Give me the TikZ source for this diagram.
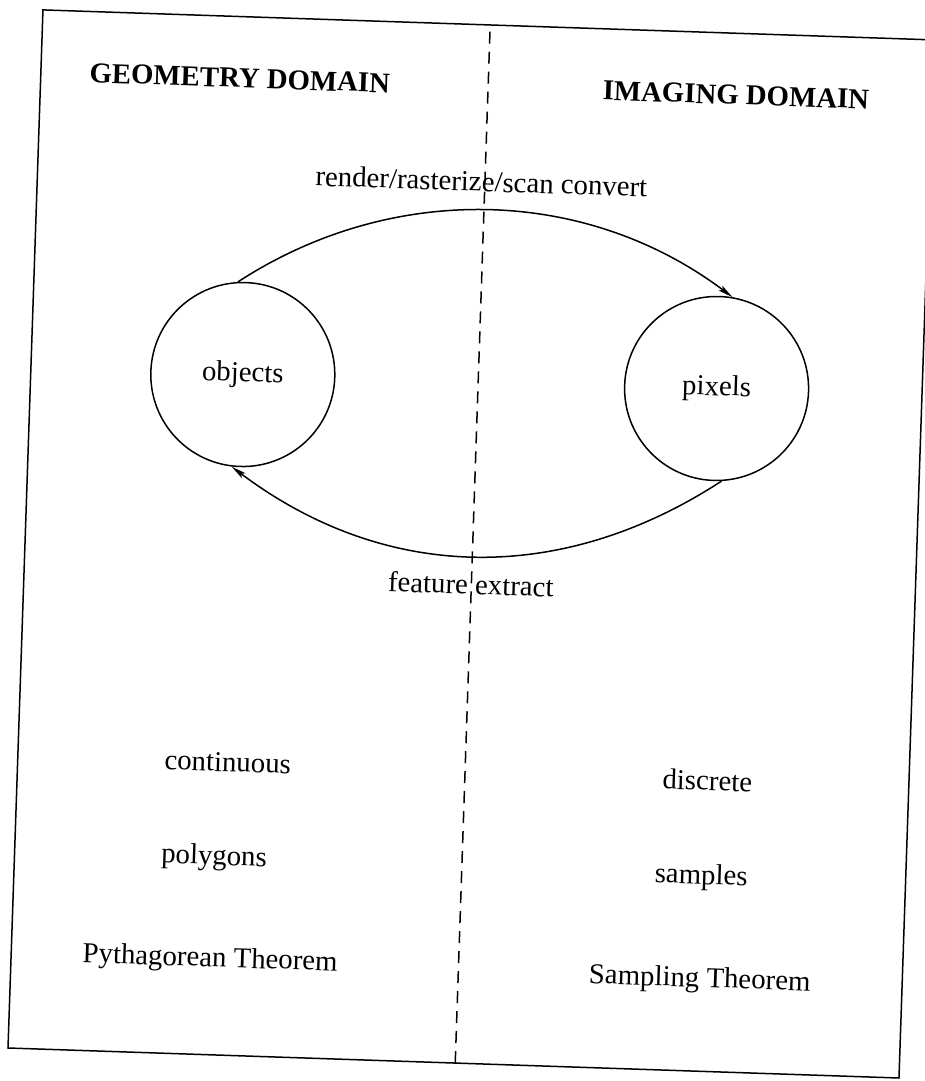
\documentclass[tikz,border=0pt]{standalone}
\usepackage{fontspec}
\setmainfont{Liberation Serif}
\usepackage{tikz}
\usetikzlibrary{arrows,arrows.meta,positioning,calc}

\begin{document}
\begin{tikzpicture}[x=0.5pt,y=0.5pt,>={Stealth[length=7.5pt,width=3pt,inset=1.5pt]},
heading/.style={
font=\fontsize{14.4}{17}\selectfont\bfseries,
inner sep=0pt,
},
ball/.style={
draw=black,
circle,
line width=0.75pt,
minimum size=92pt,
font=\fontsize{14.4}{17}\selectfont,
},
word/.style={
font=\fontsize{14.4}{17}\selectfont,
inner sep=0pt,
}
]
\useasboundingbox (0,0) rectangle (925,1081);
\begin{scope}[shift={(8,33)},rotate=-1.93,transform shape,line width=0.75pt]
\draw (0,0) rectangle (891.5,1038.7);
\draw[dash pattern=on 6pt off 4pt] (447.5,0) -- (447.5,1038.7);

\node at (199,977) [heading] (geometry) {GEOMETRY DOMAIN};
\node at (695.5,977) [heading] (imaging) {IMAGING DOMAIN};

\node at (212,681) [ball] (objects) {objects};
\node at (686,683) [ball] (pixels) {pixels};

\draw[->] (objects.95) to[out=35,in=145,looseness=0.95] (pixels.82);
\draw[->] (pixels.275) to[out=-145,in=-35] (objects.265);
\node at (444,882) [word] (render) {render/rasterize/scan convert};
\node at (447,479) [word] (feature) {feature extract};

\node at (210,293) [word] (continuous) {continuous};
\node at (199.5,197) [word] (polygons) {polygons};
\node at (199,95) [word] (pythagoras) {Pythagorean Theorem};
\node at (690,291) [word] (discrete) {discrete};
\node at (687,194) [word] (samples) {samples};
\node at (689,91) [word] (sampling) {Sampling Theorem};
\end{scope}
\end{tikzpicture}
\end{document}
